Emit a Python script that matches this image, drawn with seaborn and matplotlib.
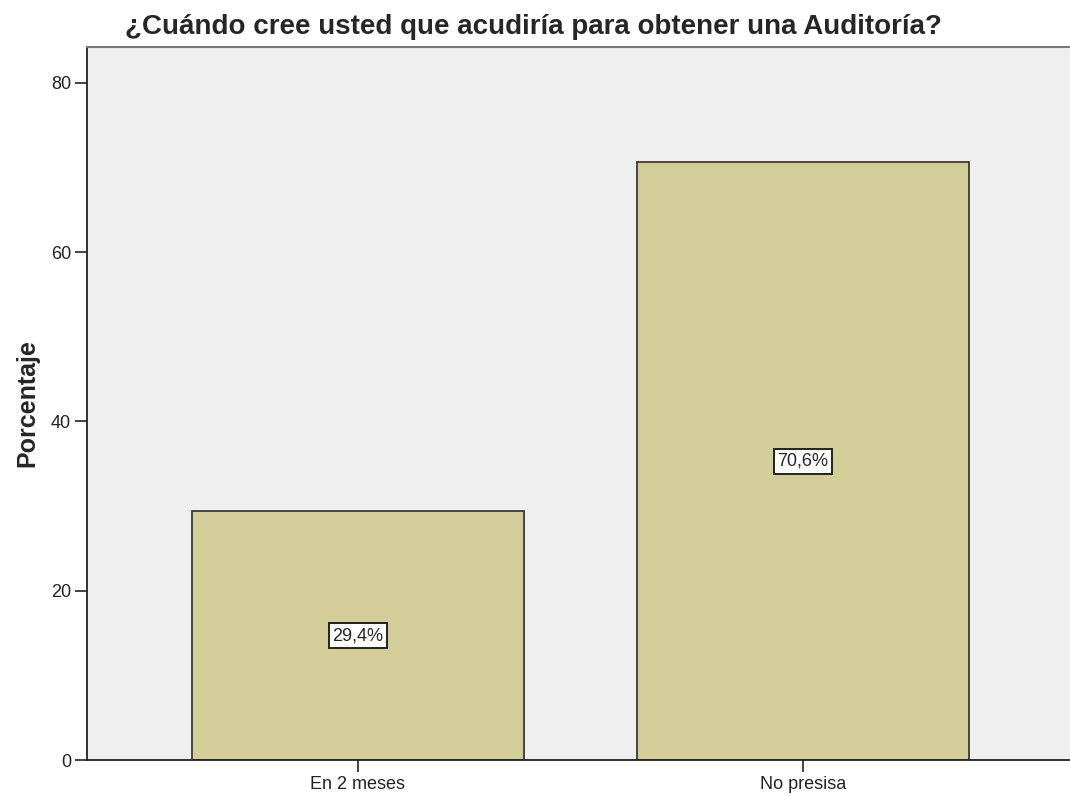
import matplotlib
matplotlib.use("Agg")
import matplotlib.pyplot as plt
import seaborn as sns
import pandas as pd

# -------------------- DATOS --------------------
categorias = ["En 2 meses", "No presisa"]
porcentajes = [29.4, 70.6]
etiquetas = ["29,4%", "70,6%"]

df = pd.DataFrame({"Categoria": categorias, "Porcentaje": porcentajes})

sns.set_style("white")
plt.rcParams["font.family"] = ["Liberation Sans", "DejaVu Sans"]

fig = plt.figure(figsize=(10.7, 7.96), dpi=100)
ax = fig.add_axes([0.0813, 0.0452, 0.9187, 0.8958])
ax.set_facecolor("#EFEFEF")

sns.barplot(data=df, x="Categoria", y="Porcentaje", color="#D3CE97",
            saturation=1, width=0.748, edgecolor="#3a3a3a", linewidth=1.3, ax=ax)

# etiquetas en el centro de cada barra
for i, (v, t) in enumerate(zip(porcentajes, etiquetas)):
    ax.text(i, v / 2, t, ha="center", va="center", fontsize=13,
            bbox=dict(boxstyle="square,pad=0.22", facecolor="white",
                      edgecolor="#222222", linewidth=1.4))

ax.set_xlim(-0.609, 1.6)
ax.set_ylim(0, 84.25)
ax.set_yticks([0, 20, 40, 60, 80])
ax.set_xlabel("")
ax.set_ylabel("Porcentaje", fontsize=18, fontweight="bold", labelpad=8)
ax.tick_params(axis="both", length=8.5, width=1.2, color="#222222", pad=3,
               labelsize=13, labelcolor="#222222", direction="out", bottom=True, left=True)
ax.set_title("¿Cuándo cree usted que acudiría para obtener una Auditoría?",
             fontsize=20, fontweight="bold", pad=9, x=0.454)

for s in ["left", "bottom"]:
    ax.spines[s].set_color("#222222")
    ax.spines[s].set_linewidth(1.3)
ax.spines["top"].set_color("#777777")
ax.spines["top"].set_linewidth(1.5)
ax.spines["right"].set_visible(False)

plt.savefig("out.png", dpi=100)
plt.close()
